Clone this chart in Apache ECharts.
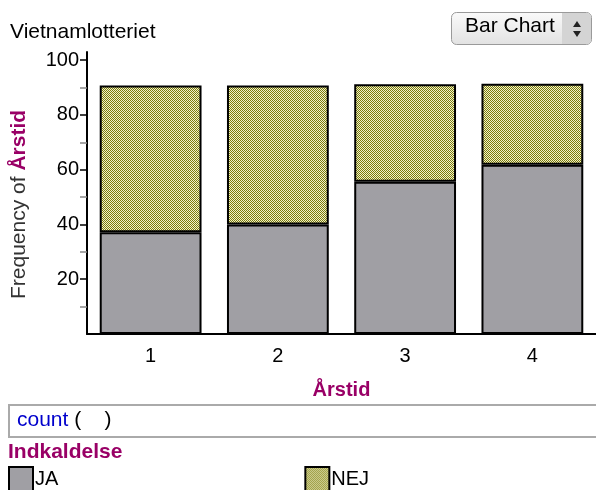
<!DOCTYPE html>
<html>
<head>
<meta charset="utf-8">
<script src="https://cdn.jsdelivr.net/npm/echarts@6/dist/echarts.min.js"></script>
<style>
  html, body { margin: 0; padding: 0; background: #fff; }
  #chart { width: 596px; height: 490px; }
</style>
</head>
<body>
<div id="chart"></div>
<script>
// data
const categories = ['1', '2', '3', '4']
const jaValues = [37.2, 40, 55.6, 61.8]
const nejValues = [53.6, 50.8, 35.6, 29.6]
const majorTicks = [20, 40, 60, 80, 100]
const minorTicks = [10, 30, 50, 70, 90]

const purple = '#990066'
const font = '"Liberation Sans", Arial, sans-serif'

// small checker pattern for the NEJ fill
const makeChecker = () => {
  const c = document.createElement('canvas')
  c.width = 2
  c.height = 2
  const ctx = c.getContext('2d')
  ctx.fillStyle = '#f2f2cc'
  ctx.fillRect(0, 0, 2, 2)
  ctx.fillStyle = '#7c7c0c'
  ctx.fillRect(0, 0, 1, 1)
  ctx.fillRect(1, 1, 1, 1)
  return c
}
const checker = { image: makeChecker(), repeat: 'repeat' }

const chart = echarts.init(document.getElementById('chart'))

const option = {
  animation: false,
  textStyle: { fontFamily: font },
  grid: { left: 87, right: -6, top: 52, bottom: 156 },
  legend: {
    left: 8,
    top: 466,
    padding: 0,
    itemWidth: 24,
    itemHeight: 24,
    itemGap: 246,
    icon: 'rect',
    textStyle: { fontSize: 20, color: '#000', padding: [0, 0, 0, -3] },
    data: ['JA', 'NEJ']
  },
  xAxis: {
    type: 'category',
    data: categories,
    name: 'Årstid',
    nameLocation: 'middle',
    nameGap: 46,
    nameTextStyle: { color: purple, fontWeight: 'bold', fontSize: 20, fontFamily: font },
    axisLine: { lineStyle: { color: '#000', width: 2 } },
    axisTick: { alignWithLabel: true, length: 7, lineStyle: { color: '#000', width: 2 } },
    axisLabel: { fontSize: 20, color: '#000', margin: 12 }
  },
  yAxis: [
    {
      type: 'value',
      min: 0,
      max: 103,
      interval: 20,
      splitLine: { show: false },
      axisLine: { show: true, lineStyle: { color: '#000', width: 2 } },
      axisTick: { show: true, customValues: majorTicks, length: 7, lineStyle: { color: '#000', width: 1.5 } },
      axisLabel: { customValues: majorTicks, fontSize: 20, color: '#000', margin: 8 }
    },
    {
      type: 'value',
      min: 0,
      max: 103,
      interval: 20,
      position: 'left',
      splitLine: { show: false },
      axisLine: { show: false },
      axisTick: { show: true, customValues: minorTicks, length: 7, lineStyle: { color: '#888', width: 1.5 } },
      axisLabel: { show: false }
    }
  ],
  series: [
    {
      name: 'JA',
      type: 'bar',
      stack: 'total',
      barWidth: '80%',
      data: jaValues,
      itemStyle: { color: '#a09fa4', borderColor: '#000', borderWidth: 2 }
    },
    {
      name: 'NEJ',
      type: 'bar',
      stack: 'total',
      barWidth: '80%',
      data: nejValues,
      itemStyle: { color: checker, borderColor: '#000', borderWidth: 2 }
    }
  ],
  graphic: [
    {
      type: 'text',
      left: 10,
      top: 22,
      style: { text: 'Vietnamlotteriet', font: '21px ' + font, fill: '#000' }
    },
    {
      type: 'text',
      x: 9,
      y: 299,
      rotation: Math.PI / 2,
      style: {
        text: '{a|Frequency of }{b|Årstid}',
        rich: {
          a: { font: '21px ' + font, fill: '#333' },
          b: { font: 'bold 21px ' + font, fill: purple }
        }
      }
    },
    // chart type button
    {
      type: 'rect',
      shape: { x: 451.5, y: 12.5, width: 140, height: 32, r: 5 },
      style: {
        fill: new echarts.graphic.LinearGradient(0, 0, 0, 1, [
          { offset: 0, color: '#fafafa' },
          { offset: 1, color: '#e2e2e2' }
        ]),
        stroke: '#9a9a9a',
        lineWidth: 1
      }
    },
    {
      type: 'rect',
      shape: { x: 562, y: 13, width: 29, height: 31, r: [0, 4, 4, 0] },
      style: { fill: '#d4d4d4' }
    },
    {
      type: 'text',
      left: 465,
      top: 16,
      style: { text: 'Bar Chart', font: '21px ' + font, fill: '#000' }
    },
    {
      type: 'polygon',
      shape: { points: [[573, 27], [581, 27], [577, 21]] },
      style: { fill: '#222' }
    },
    {
      type: 'polygon',
      shape: { points: [[573, 31], [581, 31], [577, 37]] },
      style: { fill: '#222' }
    },
    // count box
    {
      type: 'rect',
      shape: { x: 9, y: 405, width: 600, height: 32 },
      style: { fill: '#fff', stroke: '#aaa', lineWidth: 2 }
    },
    {
      type: 'text',
      left: 17,
      top: 410,
      style: {
        text: '{a|count}{b| (    )}',
        rich: {
          a: { font: '21px ' + font, fill: '#0000cc' },
          b: { font: '21px ' + font, fill: '#000' }
        }
      }
    },
    {
      type: 'text',
      left: 8,
      top: 442,
      style: { text: 'Indkaldelse', font: 'bold 21px ' + font, fill: purple }
    }
  ]
}

chart.setOption(option)
</script>
</body>
</html>
